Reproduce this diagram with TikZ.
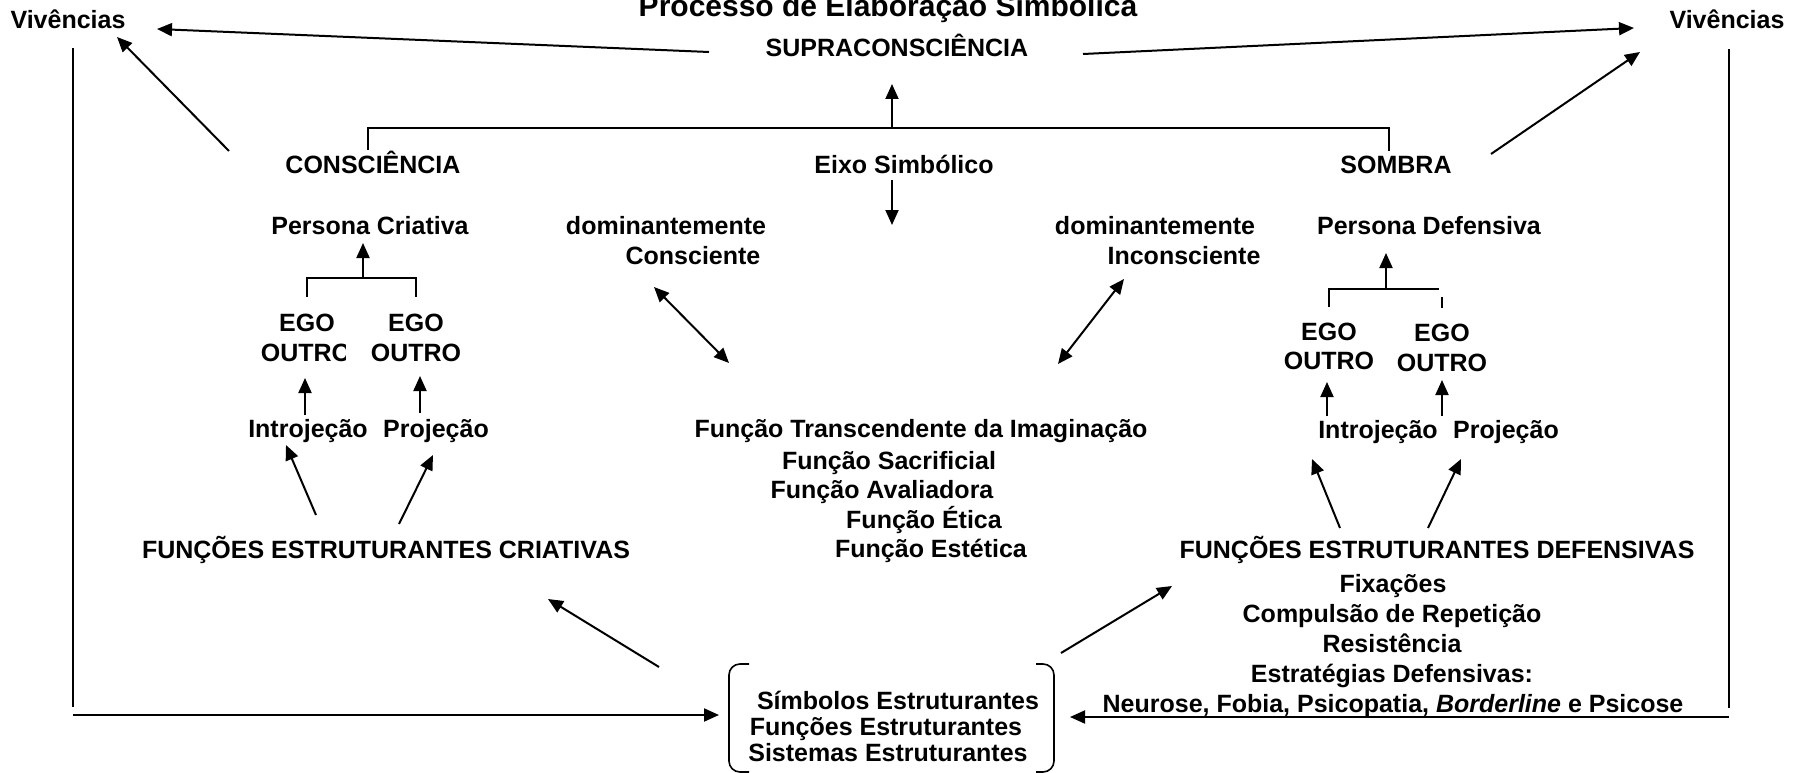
\documentclass[tikz,border=0pt]{standalone}
\usepackage{fontspec}
\setmainfont{Liberation Sans}
\usetikzlibrary{arrows.meta}
\tikzset{
 txt/.style={font=\fontsize{25}{30}\selectfont\bfseries, inner sep=0pt, anchor=base},
 arr/.style={line width=2pt, -{Triangle[length=15pt,width=13pt]}},
 dbl/.style={line width=2pt, {Triangle[length=15pt,width=13pt]}-{Triangle[length=15pt,width=13pt]}},
 ln/.style={line width=1.6pt},
}
\begin{document}
\begin{tikzpicture}[x=1pt,y=-1pt]
\useasboundingbox (0,0) rectangle (1800,773);
\fill[white] (0,0) rectangle (1800,773);
% ---------- texts ----------
\node[txt] (title) at (888,17) {\fontsize{30}{36}\selectfont Processo de Elaboração Simbólica};
\node[txt] (vivL) at (68,29) {Vivências};
\node[txt] (vivR) at (1727,29) {Vivências};
\node[txt] (supra) at (897,57) {SUPRACONSCIÊNCIA};
\node[txt] (consc) at (373,174) {CONSCIÊNCIA};
\node[txt] (eixo) at (904,174) {Eixo Simbólico};
\node[txt] (sombra) at (1396,174) {SOMBRA};
\node[txt] (persC) at (370,234) {Persona Criativa};
\node[txt] (persD) at (1429,234) {Persona Defensiva};
\node[txt] (dom1) at (666,234) {dominantemente};
\node[txt] (cons) at (693,264) {Consciente};
\node[txt] (dom2) at (1155,234) {dominantemente};
\node[txt] (incons) at (1184,264) {Inconsciente};
\node[txt] (egoL1) at (307,331) {EGO};
\begin{scope}
\clip (240,330) rectangle (345,385);
\node[txt] (outL1) at (306,361) {OUTRO};
\end{scope}
\node[txt] (egoL2) at (416,331) {EGO};
\node[txt] (outL2) at (416,361) {OUTRO};
\node[txt] (introL) at (308,437) {Introjeção};
\node[txt] (projL) at (436,437) {Projeção};
\node[txt] (funcC) at (386,558) {FUNÇÕES ESTRUTURANTES CRIATIVAS};
\node[txt] (egoR1) at (1329,340) {EGO};
\node[txt] (outR1) at (1329,369) {OUTRO};
\node[txt] (egoR2) at (1442,341) {EGO};
\node[txt] (outR2) at (1442,371) {OUTRO};
\node[txt] (introR) at (1378,438) {Introjeção};
\node[txt] (projR) at (1506,438) {Projeção};
\node[txt] (funcD) at (1437,558) {FUNÇÕES ESTRUTURANTES DEFENSIVAS};
\node[txt] (trans) at (921,437) {Função Transcendente da Imaginação};
\node[txt] (sacr) at (889,469) {Função Sacrificial};
\node[txt] (aval) at (882,498) {Função Avaliadora};
\node[txt] (etica) at (924,528) {Função Ética};
\node[txt] (estet) at (931,557) {Função Estética};
\node[txt] (fix) at (1393,592) {Fixações};
\node[txt] (comp) at (1392,622) {Compulsão de Repetição};
\node[txt] (resi) at (1392,652) {Resistência};
\node[txt] (estr) at (1392,682) {Estratégias Defensivas:};
\node[txt] (neur) at (1393,712) {Neurose, Fobia, Psicopatia, \textit{Borderline} e Psicose};
\node[txt] (simb) at (898,709) {Símbolos Estruturantes};
\node[txt] (func) at (886,735) {Funções Estruturantes};
\node[txt] (sist) at (888,761) {Sistemas Estruturantes};
% ---------- bottom bracket box ----------
\draw[ln, rounded corners=11pt] (749,664) -- (729,664) -- (729,772) -- (749,772);
\draw[ln, rounded corners=11pt] (1036,664) -- (1054,664) -- (1054,772) -- (1036,772);
% ---------- connector end points ----------
\coordinate (supraW) at (709,52);   \coordinate (vivLe) at (157,29);
\coordinate (supraE) at (1083,54);  \coordinate (vivRe) at (1634,28);
\coordinate (conscNW) at (229,151); \coordinate (vivLd) at (117,37);
\coordinate (sombNE) at (1491,154); \coordinate (vivRd) at (1640,52);
\coordinate (loopLt) at (73,48);    \coordinate (loopLb) at (73,707);
\coordinate (loopLa) at (73,715);   \coordinate (boxL) at (719,715);
\coordinate (loopRt) at (1729,49);  \coordinate (loopRb) at (1729,708);
\coordinate (loopRa) at (1729,717); \coordinate (boxR) at (1070,717);
\coordinate (brL) at (368,150);     \coordinate (brLt) at (368,128);
\coordinate (brR) at (1389,151);    \coordinate (brRt) at (1389,128);
\coordinate (brM) at (892,128);     \coordinate (supraS) at (892,84);
\coordinate (eixoS) at (892,180);   \coordinate (eixoT) at (892,225);
\coordinate (dA1) at (654,287);     \coordinate (dA2) at (729,363);
\coordinate (dB1) at (1124,279);    \coordinate (dB2) at (1058,364);
\coordinate (pcL) at (307,297);     \coordinate (pcLt) at (307,278);
\coordinate (pcR) at (416,297);     \coordinate (pcRt) at (416,278);
\coordinate (pcM) at (363,278);     \coordinate (pcT) at (363,243);
\coordinate (iL1) at (305,415);     \coordinate (iL2) at (305,378);
\coordinate (pL1) at (420,413);     \coordinate (pL2) at (420,376);
\coordinate (fcA) at (316,515);     \coordinate (fcAt) at (286,445);
\coordinate (fcB) at (399,524);     \coordinate (fcBt) at (433,455);
\coordinate (pdL) at (1329,307);    \coordinate (pdLt) at (1329,289);
\coordinate (pdRt) at (1439,289);
\coordinate (pdR1) at (1442,297);   \coordinate (pdR2) at (1442,308);
\coordinate (pdM) at (1386,289);    \coordinate (pdT) at (1386,253);
\coordinate (iR1) at (1327,416);    \coordinate (iR2) at (1327,382);
\coordinate (pR1) at (1442,416);    \coordinate (pR2) at (1442,380);
\coordinate (fdA) at (1340,528);    \coordinate (fdAt) at (1312,459);
\coordinate (fdB) at (1428,528);    \coordinate (fdBt) at (1461,459);
\coordinate (bxA) at (659,667);     \coordinate (bxAt) at (548,599);
\coordinate (bxB) at (1061,653);    \coordinate (bxBt) at (1172,586);
% ---------- connectors ----------
\draw[arr] (supraW) -- (vivLe);
\draw[arr] (supraE) -- (vivRe);
\draw[arr] (conscNW) -- (vivLd);
\draw[arr] (sombNE) -- (vivRd);
\draw[ln] (loopLt) -- (loopLb);
\draw[arr] (loopLa) -- (boxL);
\draw[ln] (loopRt) -- (loopRb);
\draw[arr] (loopRa) -- (boxR);
\draw[ln] (brL) -- (brLt) -- (brRt) -- (brR);
\draw[arr] (brM) -- (supraS);
\draw[arr] (eixoS) -- (eixoT);
\draw[dbl] (dA1) -- (dA2);
\draw[dbl] (dB1) -- (dB2);
\draw[ln] (pcL) -- (pcLt) -- (pcRt) -- (pcR);
\draw[arr] (pcM) -- (pcT);
\draw[arr] (iL1) -- (iL2);
\draw[arr] (pL1) -- (pL2);
\draw[arr] (fcA) -- (fcAt);
\draw[arr] (fcB) -- (fcBt);
\draw[ln] (pdL) -- (pdLt) -- (pdRt);
\draw[ln] (pdR1) -- (pdR2);
\draw[arr] (pdM) -- (pdT);
\draw[arr] (iR1) -- (iR2);
\draw[arr] (pR1) -- (pR2);
\draw[arr] (fdA) -- (fdAt);
\draw[arr] (fdB) -- (fdBt);
\draw[arr] (bxA) -- (bxAt);
\draw[arr] (bxB) -- (bxBt);
\end{tikzpicture}
\end{document}
